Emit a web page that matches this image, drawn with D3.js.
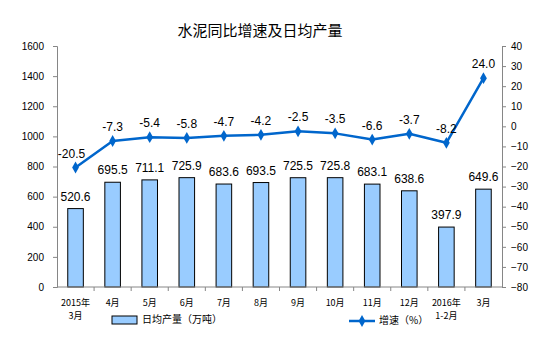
<!DOCTYPE html>
<html>
<head>
<meta charset="utf-8">
<script src="https://cdn.jsdelivr.net/npm/d3@7"></script>
<style>
  body { margin: 0; background: #fff; }
  svg { display: block; }
</style>
</head>
<body>
<div id="chart"></div>
<script>
// Cement: YoY growth (line, right axis) and daily output (bars, left axis)

const categories = ["2015年|3月", "4月", "5月", "6月", "7月", "8月", "9月", "10月", "11月", "12月", "2016年|1-2月", "3月"];
const dailyOutput = [520.6, 695.5, 711.1, 725.9, 683.6, 693.5, 725.5, 725.8, 683.1, 638.6, 397.9, 649.6];
const growth = [-20.5, -7.3, -5.4, -5.8, -4.7, -4.2, -2.5, -3.5, -6.6, -3.7, -8.2, 24.0];
const leftTicks = [0, 200, 400, 600, 800, 1000, 1200, 1400, 1600];
const rightTicks = [40, 30, 20, 10, 0, -10, -20, -30, -40, -50, -60, -70, -80];

const W = 554, H = 352;
const m = { top: 46, right: 52, bottom: 65, left: 57 };
const iw = W - m.left - m.right;
const ih = H - m.top - m.bottom;

const BAR_FILL = "#99ccff";
const LINE_COLOR = "#0066cc";
const AXIS_COLOR = "#868686";
const FONT = "Arial, 'Liberation Sans', 'Noto Sans CJK SC', sans-serif";
const CJK = "'Noto Sans CJK SC', sans-serif";

const svg = d3.select("#chart").append("svg")
  .attr("width", W).attr("height", H);

svg.append("text")
  .attr("x", 260).attr("y", 36)
  .attr("text-anchor", "middle")
  .attr("font-family", CJK)
  .attr("font-size", "15px")
  .attr("fill", "#000")
  .text("水泥同比增速及日均产量");

const g = svg.append("g").attr("transform", `translate(${m.left},${m.top})`);

const x = d3.scaleBand().domain(categories).range([0, iw]).paddingInner(0.58).paddingOuter(0.29);
const xEdge = d3.scaleBand().domain(categories).range([0, iw]).padding(0);
const yL = d3.scaleLinear().domain([0, 1600]).range([ih, 0]);
const yR = d3.scaleLinear().domain([-80, 40]).range([ih, 0]);

// Bars
g.selectAll(".bar")
  .data(dailyOutput)
  .join("rect")
    .attr("x", (d, i) => x(categories[i]))
    .attr("y", d => yL(d))
    .attr("width", x.bandwidth())
    .attr("height", d => ih - yL(d))
    .attr("fill", BAR_FILL)
    .attr("stroke", "#000")
    .attr("stroke-width", 1);

g.selectAll(".bar-label")
  .data(dailyOutput)
  .join("text")
    .attr("x", (d, i) => x(categories[i]) + x.bandwidth() / 2)
    .attr("y", d => yL(d) - 8)
    .attr("text-anchor", "middle")
    .attr("font-family", FONT)
    .attr("font-size", "12px")
    .attr("fill", "#000")
    .text(d => d.toFixed(1));

// Left axis
const yAxisL = g.append("g")
  .call(d3.axisLeft(yL).tickValues(leftTicks).tickFormat(d3.format("d")).tickSize(4).tickPadding(9));
// Right axis
const yAxisR = g.append("g")
  .attr("transform", `translate(${iw},0)`)
  .call(d3.axisRight(yR).tickValues(rightTicks).tickFormat(d3.format("d")).tickSize(4).tickPadding(5));

[yAxisL, yAxisR].forEach(a => {
  a.select(".domain").attr("stroke", AXIS_COLOR);
  a.selectAll(".tick line").attr("stroke", AXIS_COLOR);
  a.selectAll("text")
    .attr("fill", "#000")
    .attr("font-family", FONT)
    .attr("font-size", "10px");
});

// X axis
const xAxis = g.append("g").attr("transform", `translate(0,${ih})`);
xAxis.append("line")
  .attr("x1", 0).attr("x2", iw)
  .attr("stroke", AXIS_COLOR);
categories.forEach((c, i) => {
  const bx = xEdge(c) + xEdge.bandwidth();
  if (i < categories.length - 1) {
    xAxis.append("line")
      .attr("x1", bx).attr("x2", bx)
      .attr("y1", 0).attr("y2", 4)
      .attr("stroke", AXIS_COLOR);
  }
  const lines = c.split("|");
  const t = xAxis.append("text")
    .attr("x", x(c) + x.bandwidth() / 2)
    .attr("y", 19)
    .attr("text-anchor", "middle")
    .attr("font-family", CJK)
    .attr("font-size", "9px")
    .attr("fill", "#000");
  lines.forEach((l, k) => {
    t.append("tspan")
      .attr("x", x(c) + x.bandwidth() / 2)
      .attr("dy", k === 0 ? 0 : 13)
      .text(l);
  });
});

// Growth line
const line = d3.line()
  .x((d, i) => x(categories[i]) + x.bandwidth() / 2)
  .y(d => yR(d));

g.append("path")
  .datum(growth)
  .attr("d", line)
  .attr("fill", "none")
  .attr("stroke", LINE_COLOR)
  .attr("stroke-width", 2.5)
  .attr("stroke-linejoin", "round");

const diamond = d3.symbol().type(d3.symbolDiamond).size(40);
g.selectAll(".pt")
  .data(growth)
  .join("path")
    .attr("d", diamond)
    .attr("transform", (d, i) => `translate(${x(categories[i]) + x.bandwidth() / 2},${yR(d)})`)
    .attr("fill", LINE_COLOR);

g.selectAll(".pt-label")
  .data(growth)
  .join("text")
    .attr("x", (d, i) => x(categories[i]) + x.bandwidth() / 2 - (i === 0 ? 4 : 0))
    .attr("y", d => yR(d) - 10)
    .attr("text-anchor", "middle")
    .attr("font-family", FONT)
    .attr("font-size", "12px")
    .attr("fill", "#000")
    .text(d => d.toFixed(1));

// Legend
const leg = svg.append("g").attr("transform", `translate(0, ${H - 32})`);
leg.append("rect")
  .attr("x", 112).attr("y", -4)
  .attr("width", 25).attr("height", 8)
  .attr("fill", BAR_FILL)
  .attr("stroke", "#000");
leg.append("text")
  .attr("x", 142).attr("y", 0)
  .attr("dominant-baseline", "middle")
  .attr("font-family", CJK)
  .attr("font-size", "10px")
  .text("日均产量（万吨）");

leg.append("line")
  .attr("x1", 349).attr("x2", 375)
  .attr("y1", 1).attr("y2", 1)
  .attr("stroke", LINE_COLOR)
  .attr("stroke-width", 2.5);
leg.append("path")
  .attr("d", diamond)
  .attr("transform", "translate(362,1)")
  .attr("fill", LINE_COLOR);
leg.append("text")
  .attr("x", 379).attr("y", 1)
  .attr("dominant-baseline", "middle")
  .attr("font-family", CJK)
  .attr("font-size", "10px")
  .text("增速（%）");
</script>
</body>
</html>
